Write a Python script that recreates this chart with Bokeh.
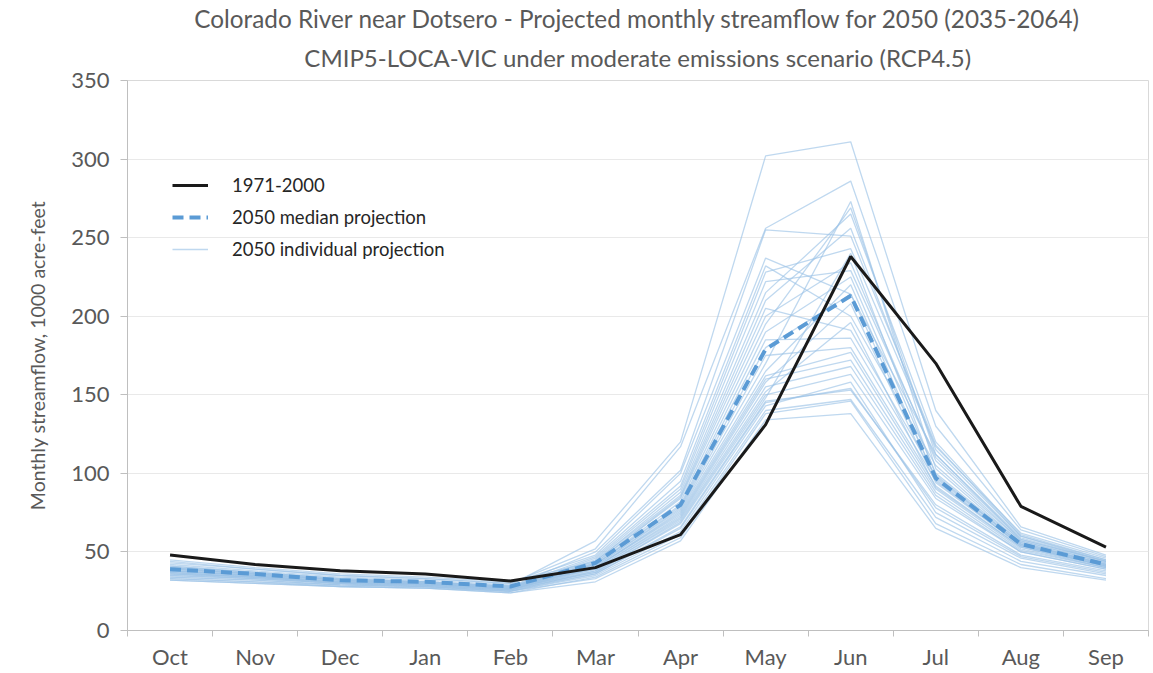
from bokeh.plotting import figure
from bokeh.models import FixedTicker, Legend, LegendItem, Title, Range1d
from bokeh.embed import file_html
from bokeh.resources import INLINE

months = ["Oct", "Nov", "Dec", "Jan", "Feb", "Mar", "Apr", "May", "Jun", "Jul", "Aug", "Sep"]
y_ticks = [0, 50, 100, 150, 200, 250, 300, 350]

historical_1971_2000 = [48, 42, 38, 36, 31.5, 40, 61, 131, 238, 170, 79, 53]
median_2050 = [39, 36, 32, 31, 28, 43, 80, 179, 213, 97, 55, 42]

proj_01 = [42, 38, 34, 32, 29, 57, 120, 302, 311, 140, 66, 48]
proj_02 = [44, 39, 35, 33, 30, 52, 117, 256, 286, 130, 64, 47]
proj_03 = [40, 37, 33, 31, 28, 50, 102, 255, 251, 118, 60, 45]
proj_04 = [43, 39, 35, 33, 30, 48, 100, 237, 214, 112, 58, 44]
proj_05 = [41, 37, 33, 31, 28, 47, 95, 232, 200, 105, 57, 43]
proj_06 = [39, 36, 32, 30, 27, 46, 92, 228, 243, 117, 62, 46]
proj_07 = [38, 35, 31, 30, 27, 45, 90, 222, 229, 110, 58, 44]
proj_08 = [45, 40, 36, 34, 31, 44, 88, 215, 265, 120, 61, 45]
proj_09 = [37, 34, 31, 29, 27, 44, 86, 210, 256, 115, 60, 44]
proj_10 = [40, 36, 32, 30, 28, 43, 85, 205, 191, 98, 55, 42]
proj_11 = [36, 34, 30, 29, 26, 43, 84, 200, 234, 108, 57, 43]
proj_12 = [39, 36, 32, 31, 28, 42, 82, 195, 269, 112, 59, 44]
proj_13 = [38, 35, 31, 30, 27, 42, 80, 190, 225, 100, 56, 42]
proj_14 = [41, 37, 33, 31, 28, 42, 79, 185, 186, 95, 54, 41]
proj_15 = [39, 36, 32, 30, 28, 41, 78, 180, 214, 97, 55, 42]
proj_16 = [37, 34, 31, 29, 26, 41, 77, 175, 180, 92, 53, 41]
proj_17 = [40, 36, 32, 31, 28, 40, 76, 170, 273, 103, 56, 42]
proj_18 = [36, 33, 30, 29, 26, 40, 75, 165, 220, 96, 54, 41]
proj_19 = [38, 35, 31, 30, 27, 40, 74, 162, 177, 90, 52, 40]
proj_20 = [35, 33, 30, 28, 26, 39, 73, 160, 172, 88, 51, 40]
proj_21 = [39, 36, 32, 30, 28, 39, 72, 158, 208, 94, 54, 41]
proj_22 = [37, 34, 31, 29, 27, 38, 71, 155, 168, 86, 50, 39]
proj_23 = [34, 32, 29, 28, 25, 38, 70, 152, 196, 91, 53, 40]
proj_24 = [36, 34, 30, 29, 26, 37, 69, 150, 163, 84, 50, 39]
proj_25 = [38, 35, 31, 30, 27, 37, 68, 148, 240, 99, 55, 41]
proj_26 = [33, 31, 29, 28, 25, 36, 66, 146, 153, 80, 48, 38]
proj_27 = [35, 33, 30, 29, 26, 36, 65, 145, 154, 78, 47, 37]
proj_28 = [34, 32, 29, 28, 25, 35, 63, 143, 158, 75, 46, 36]
proj_29 = [32, 30, 28, 27, 24, 34, 61, 140, 147, 72, 44, 35]
proj_30 = [33, 31, 28, 27, 25, 33, 59, 138, 146, 68, 42, 33]
proj_31 = [32, 30, 28, 27, 24, 31, 57, 134, 138, 65, 40, 32]

projections = [proj_01, proj_02, proj_03, proj_04, proj_05, proj_06, proj_07, proj_08,
               proj_09, proj_10, proj_11, proj_12, proj_13, proj_14, proj_15, proj_16,
               proj_17, proj_18, proj_19, proj_20, proj_21, proj_22, proj_23, proj_24,
               proj_25, proj_26, proj_27, proj_28, proj_29, proj_30, proj_31]

FONT = "Lato"
GRAY_TXT = "#595959"
AXIS_GRAY = "#bfbfbf"

# month centres on a numeric axis so ticks can sit between categories
xs = [i + 0.5 for i in range(len(months))]

p = figure(width=1150, height=672, output_backend="svg", toolbar_location=None,
           x_range=Range1d(0, len(months)), y_range=Range1d(0, 350),
           min_border_left=127, min_border_right=2, min_border_top=80, min_border_bottom=41)
p.background_fill_color = "white"
p.border_fill_color = "white"
p.outline_line_color = "#d9d9d9"

t2 = Title(text="CMIP5-LOCA-VIC under moderate emissions scenario (RCP4.5)", align="center",
           text_font=FONT, text_font_size="24px", text_font_style="normal",
           text_color=GRAY_TXT, standoff=17)
t1 = Title(text="Colorado River near Dotsero - Projected monthly streamflow for 2050 (2035-2064)",
           align="center", text_font=FONT, text_font_size="24.3px", text_font_style="normal",
           text_color=GRAY_TXT, standoff=0)
p.add_layout(t2, "above")
p.add_layout(t1, "above")

r_ind = p.multi_line([xs] * len(projections), projections, line_color="#9dc3e6",
                     line_alpha=0.65, line_width=1.3)
r_med = p.line(xs, median_2050, line_color="#5b9bd5", line_width=4, line_dash="11 6")
r_hist = p.line(xs, historical_1971_2000, line_color="#1a1a1a", line_width=3)

# axes
p.xaxis.ticker = FixedTicker(ticks=xs, minor_ticks=list(range(len(months) + 1)))
p.xaxis.major_label_overrides = {x: m for x, m in zip(xs, months)}
p.xaxis.major_tick_line_color = None
p.xaxis.major_tick_out = 0
p.xaxis.major_tick_in = 0
p.xaxis.minor_tick_line_color = AXIS_GRAY
p.xaxis.minor_tick_out = 6
p.xaxis.minor_tick_in = 0
p.xaxis.major_label_standoff = 6
p.xaxis.axis_line_color = AXIS_GRAY
p.xaxis.major_label_text_font = FONT
p.xaxis.major_label_text_font_size = "22px"
p.xaxis.major_label_text_color = GRAY_TXT

p.yaxis.ticker = FixedTicker(ticks=y_ticks)
p.yaxis.axis_line_color = AXIS_GRAY
p.yaxis.major_tick_line_color = AXIS_GRAY
p.yaxis.major_tick_out = 7
p.yaxis.major_tick_in = 0
p.yaxis.minor_tick_line_color = None
p.yaxis.major_label_standoff = 11
p.yaxis.major_label_text_font = FONT
p.yaxis.major_label_text_font_size = "22px"
p.yaxis.major_label_text_color = GRAY_TXT
p.yaxis.axis_label = "Monthly streamflow, 1000 acre-feet"
p.yaxis.axis_label_text_font = FONT
p.yaxis.axis_label_text_font_size = "19.5px"
p.yaxis.axis_label_text_font_style = "normal"
p.yaxis.axis_label_text_color = GRAY_TXT
p.yaxis.axis_label_standoff = 19

p.xgrid.visible = False
p.ygrid.grid_line_color = "#e9e9e9"
p.ygrid.ticker = FixedTicker(ticks=y_ticks)

legend = Legend(items=[
    LegendItem(label="1971-2000", renderers=[r_hist]),
    LegendItem(label="2050 median projection", renderers=[r_med]),
    LegendItem(label="2050 individual projection", renderers=[r_ind]),
], location=(45, 370), border_line_color=None, background_fill_alpha=0,
    label_text_font=FONT, label_text_font_size="18.5px", label_text_color="#262626",
    glyph_width=36, glyph_height=22, label_height=22, spacing=10, padding=0, margin=0,
    label_standoff=24)
p.add_layout(legend)

open("out.html", "w").write(file_html(p, INLINE))
